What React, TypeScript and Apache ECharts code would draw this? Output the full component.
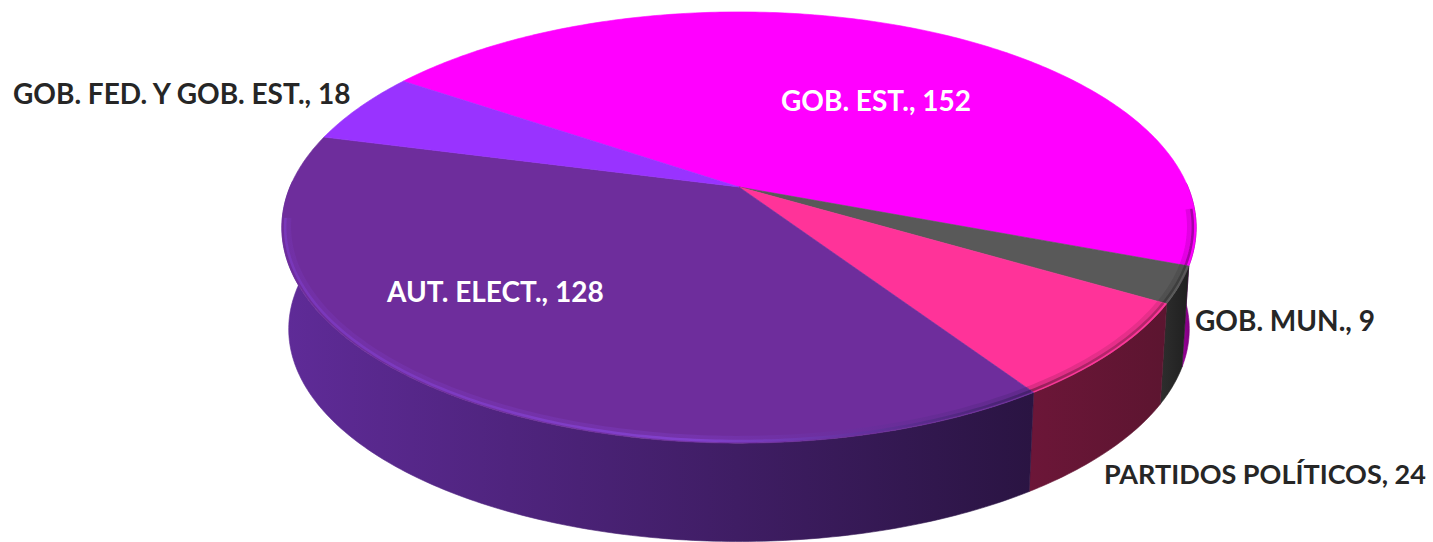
import React, { useEffect, useRef } from "react";
import * as echarts from "echarts";

const categories = ["GOB. EST.", "GOB. MUN.", "PARTIDOS POLÍTICOS", "AUT. ELECT.", "GOB. FED. Y GOB. EST."];
const values = [152, 9, 24, 128, 18];

const topColors = ["#ff00ff", "#595959", "#ff3399", "#6e2d9c", "#9933ff"];
const sideFrom = ["#a400a4", "#2e2e2e", "#6c1638", "#5f2b98", "#6a22b0"];
const sideTo = ["#640064", "#1f1f1f", "#5c1530", "#2a1442", "#6a22b0"];
const rimStart = ["#a000a0", "#3c3c3c", "#8f1f55", "#7a38bc", "#9933ff"];
const rimMiddle = ["#a000a0", "#3c3c3c", "#b02468", "#8442d0", "#9933ff"];
const rimEnd = ["#a000a0", "#3c3c3c", "#b02468", "#43206a", "#9933ff"];
const labelColors = ["#ffffff", "#262626", "#262626", "#ffffff", "#262626"];
const labelSizes = [28, 28, 27, 28, 28];
const labelPositions = [
  [781, 100],
  [1195, 320],
  [1104, 473],
  [387, 291],
  [13, 93],
];

const START_ANGLE = -55.5;
const CX = 739;
const CY = 187;
const R = 449;
const B = 208;
const K = 0.188;
const VANISH_Y = 7000;
const DEPTH_SCALE = 0.985;

function project(deg: number, radius = 1): [number, number] {
  const s = (deg * Math.PI) / 180;
  const a = ((deg + 0.3 + 0.7 * Math.sin(s)) * Math.PI) / 180;
  const u = Math.sin(a) * radius;
  const v = -Math.cos(a) * radius;
  const w = 1 - K * v;
  return [CX + (R * u) / w, CY + (B * v) / w];
}

function lower(p: [number, number]): [number, number] {
  return [CX + (p[0] - CX) * DEPTH_SCALE, VANISH_Y + (p[1] - VANISH_Y) * DEPTH_SCALE];
}

function arc(from: number, to: number, radius = 1): [number, number][] {
  const pts: [number, number][] = [];
  const n = Math.max(2, Math.ceil((to - from) / 0.75));
  for (let i = 0; i <= n; i++) pts.push(project(from + ((to - from) * i) / n, radius));
  return pts;
}

const total = values.reduce((s, v) => s + v, 0);

function sliceRange(index: number, value: number): [number, number] {
  let before = 0;
  for (let i = 0; i < index; i++) before += values[i];
  const a0 = START_ANGLE + (before / total) * 360;
  return [a0, a0 + (value / total) * 360];
}

function hGradient(from: string, to: string) {
  return new echarts.graphic.LinearGradient(0, 0, 1, 0, [
    { offset: 0, color: from },
    { offset: 1, color: to },
  ]);
}

function rimGradient(i: number) {
  return new echarts.graphic.LinearGradient(0, 0, 1, 0, [
    { offset: 0, color: rimStart[i] },
    { offset: 0.55, color: rimMiddle[i] },
    { offset: 1, color: rimEnd[i] },
  ]);
}

function renderSide(params: any, api: any) {
  const i = params.dataIndex;
  const [a0, a1] = sliceRange(i, api.value(0));
  const from = Math.max(a0, 88);
  const to = Math.min(a1, 272);
  if (to <= from) return { type: "group", children: [] };
  const up = arc(from, to);
  const down = up.map(lower).reverse();
  const fill = hGradient(sideFrom[i], sideTo[i]);
  return {
    type: "polygon",
    shape: { points: [...up, ...down] },
    style: { fill, stroke: fill, lineWidth: 0.6 },
  };
}

function renderTop(params: any, api: any) {
  const i = params.dataIndex;
  const [a0, a1] = sliceRange(i, api.value(0));
  const children: any[] = [
    {
      type: "polygon",
      shape: { points: [[CX, CY], ...arc(a0, a1)] },
      style: { fill: topColors[i], stroke: topColors[i], lineWidth: 0.6 },
    },
  ];
  const from = Math.max(a0, 95);
  const to = Math.min(a1, 262);
  if (to > from) {
    children.push({
      type: "polyline",
      shape: { points: arc(from, to, 0.988) },
      style: { fill: "none", stroke: rimGradient(i), lineWidth: 7, opacity: 0.3 },
    });
    children.push({
      type: "polyline",
      shape: { points: arc(from, to, 0.993) },
      style: { fill: "none", stroke: rimGradient(i), lineWidth: 2.5, opacity: 0.9 },
    });
  }
  return { type: "group", children };
}

const seriesData = values.map((v, i) => ({ name: categories[i], value: [v] }));

export default function App() {
  const ref = useRef<HTMLDivElement>(null);
  useEffect(() => {
    const chart = echarts.init(ref.current!, null, { renderer: "svg" });
    chart.setOption({
      animation: false,
      backgroundColor: "#ffffff",
      series: [
        { type: "custom", coordinateSystem: "none", renderItem: renderSide, data: seriesData, silent: true, z: 1 },
        { type: "custom", coordinateSystem: "none", renderItem: renderTop, data: seriesData, silent: true, z: 2 },
      ],
      graphic: categories.map((c, i) => ({
        type: "text",
        x: labelPositions[i][0],
        y: labelPositions[i][1],
        z: 10,
        style: {
          text: `${c}, ${values[i]}`,
          fill: labelColors[i],
          font: `bold ${labelSizes[i]}px Lato, "Open Sans", sans-serif`,
          textVerticalAlign: "middle",
        },
      })),
    });
    return () => chart.dispose();
  }, []);
  return <div ref={ref} style={{ position: "absolute", left: 0, top: 0, width: 1433, height: 542 }} />;
}
